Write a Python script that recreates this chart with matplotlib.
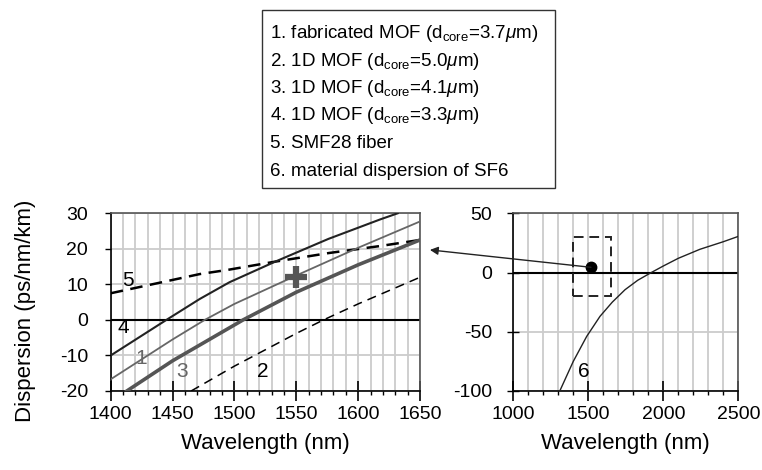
import numpy as np
import matplotlib
matplotlib.use("Agg")
import matplotlib.pyplot as plt
from matplotlib.patches import Rectangle, ConnectionPatch

plt.rcParams['font.family'] = ['Liberation Sans', 'DejaVu Sans']
plt.rcParams['mathtext.fontset'] = 'custom'
plt.rcParams['mathtext.rm'] = 'Liberation Sans'
plt.rcParams['mathtext.it'] = 'Liberation Sans:italic'
plt.rcParams['axes.unicode_minus'] = False

# curves (wavelength nm, dispersion ps/nm/km)
wl_1 = [1400, 1450, 1476, 1500, 1550, 1600, 1650]
d_1 = [-16.7, -5.5, 0, 4.5, 12.5, 20.3, 27.7]
wl_2 = [1465, 1500, 1550, 1572, 1600, 1650]
d_2 = [-20, -13, -3.8, 0, 4.5, 12]
wl_3 = [1413, 1450, 1507, 1550, 1600, 1650]
d_3 = [-20, -11.5, 0, 7.8, 15.5, 22.5]
wl_4 = [1400, 1445, 1472, 1496, 1533, 1576, 1618, 1632]
d_4 = [-10, 0, 5.9, 10.6, 16.4, 22.8, 28.3, 30]
wl_5 = [1400, 1472, 1495, 1533, 1576, 1618, 1650]
d_5 = [7.5, 12.9, 14.1, 16.4, 18.8, 20.8, 22.5]
wl_6 = [1310, 1400, 1489, 1578, 1660, 1745, 1830, 1920, 2000, 2100, 2244, 2400, 2500]
d_6 = [-100, -75, -54, -37, -25, -14.5, -6.5, 0, 5.5, 12, 19.6, 26, 30.5]

meas_wl, meas_d = 1550, 12
dot_wl, dot_d = 1518, 4.4

legend_lines = [
    r"1. fabricated MOF (d$_\mathregular{core}$=3.7$\mu$m)",
    r"2. 1D MOF (d$_\mathregular{core}$=5.0$\mu$m)",
    r"3. 1D MOF (d$_\mathregular{core}$=4.1$\mu$m)",
    r"4. 1D MOF (d$_\mathregular{core}$=3.3$\mu$m)",
    "5. SMF28 fiber",
    "6. material dispersion of SF6",
]

fig = plt.figure(figsize=(7.62, 4.70), dpi=100)
ax1 = fig.add_axes([0.1453, 0.1681, 0.4059, 0.3781])
ax2 = fig.add_axes([0.6736, 0.1681, 0.2953, 0.3781])

grid_c = '#cccccc'

def style(ax, xmin, xmax, xmaj, xmin_step, ymin, ymax, ystep, ytickdir):
    ax.set_xlim(xmin, xmax)
    ax.set_ylim(ymin, ymax)
    ax.set_xticks(np.arange(xmin, xmax + 1, xmaj))
    ax.set_xticks(np.arange(xmin, xmax + 1, xmin_step), minor=True)
    ax.set_yticks(np.arange(ymin, ymax + 1, ystep))
    ax.grid(which='minor', axis='x', color=grid_c, lw=1.3)
    ax.grid(which='major', axis='x', color=grid_c, lw=1.3)
    ax.grid(which='major', axis='y', color=grid_c, lw=1.3)
    ax.set_axisbelow(True)
    ax.axhline(0, color='black', lw=1.5, zorder=2)
    for s in ['left', 'bottom']:
        ax.spines[s].set_color('black')
        ax.spines[s].set_linewidth(1.2)
    for s in ['top', 'right']:
        ax.spines[s].set_color('#555555')
        ax.spines[s].set_linewidth(1.2)
    ax.tick_params(axis='x', which='major', direction='inout', length=15, width=1.2, pad=3, labelsize=14)
    ax.tick_params(axis='x', which='minor', direction='out', length=3, width=1.0)
    if ytickdir == 'out':
        ax.tick_params(axis='y', direction='out', length=4.3, width=1.0, pad=12, labelsize=14)
    else:
        ax.tick_params(axis='y', direction='inout', length=8.6, width=1.0, pad=11, labelsize=14)
    ax.set_xlabel('Wavelength (nm)', fontsize=16)

style(ax1, 1400, 1650, 50, 10, -20, 30, 10, 'out')
style(ax2, 1000, 2500, 500, 100, -100, 50, 50, 'inout')

# left panel curves
ax1.plot(wl_5, d_5, color='black', lw=1.8, ls=(0, (5, 3)), zorder=3)
ax1.plot(wl_2, d_2, color='black', lw=1.1, ls=(0, (6, 4)), zorder=3)
ax1.plot(wl_4, d_4, color='#222222', lw=1.5, zorder=3)
ax1.plot(wl_1, d_1, color='#666666', lw=1.3, zorder=3)
ax1.plot(wl_3, d_3, color='#555555', lw=2.6, zorder=3)
ax1.plot([meas_wl], [meas_d], marker='+', ms=16, mew=4.5, color='#555555', zorder=4)

lab_kw = dict(fontsize=15, ha='center', va='center', zorder=5)
ax1.text(1414, 11, '5', color='black', **lab_kw)
ax1.text(1410, -2, '4', color='black', **lab_kw)
ax1.text(1425, -10.8, '1', color='#666666', **lab_kw)
ax1.text(1458, -14.6, '3', color='#666666', **lab_kw)
ax1.text(1523, -14.6, '2', color='black', **lab_kw)

ax1.set_ylabel('Dispersion (ps/nm/km)', fontsize=16)
ax1.yaxis.set_label_coords(-0.24, 0.45)
ax1.xaxis.set_label_coords(0.5, -0.235)
ax2.xaxis.set_label_coords(0.5, -0.235)

# right panel
ax2.plot(wl_6, d_6, color='#222222', lw=1.0, zorder=3)
ax2.text(1467, -83.7, '6', color='black', **lab_kw)
ax2.add_patch(Rectangle((1400, -20), 250, 50, fill=False, ls=(0, (5, 3)),
                        lw=1.4, edgecolor='#222222', zorder=4))
ax2.plot([dot_wl], [dot_d], 'o', color='black', ms=7.5, zorder=5)

arrow = ConnectionPatch(xyA=(dot_wl, dot_d), coordsA=ax2.transData,
                        xyB=(1658, 19.7), coordsB=ax1.transData,
                        arrowstyle='-|>', mutation_scale=12, lw=1.0, color='#222222')
fig.add_artist(arrow)

# legend box
fig.add_artist(Rectangle((0.3438, 0.60), 0.3845, 0.3787, transform=fig.transFigure,
                         fill=False, edgecolor='#333333', lw=1.0))
ys = [33.3, 61.0, 88.5, 116, 144, 171.7]
for txt, yp in zip(legend_lines, ys):
    fig.text(270 / 762, 1 - yp / 470, txt, fontsize=13.5, ha='left', va='center')

fig.savefig('out.png', dpi=100)
